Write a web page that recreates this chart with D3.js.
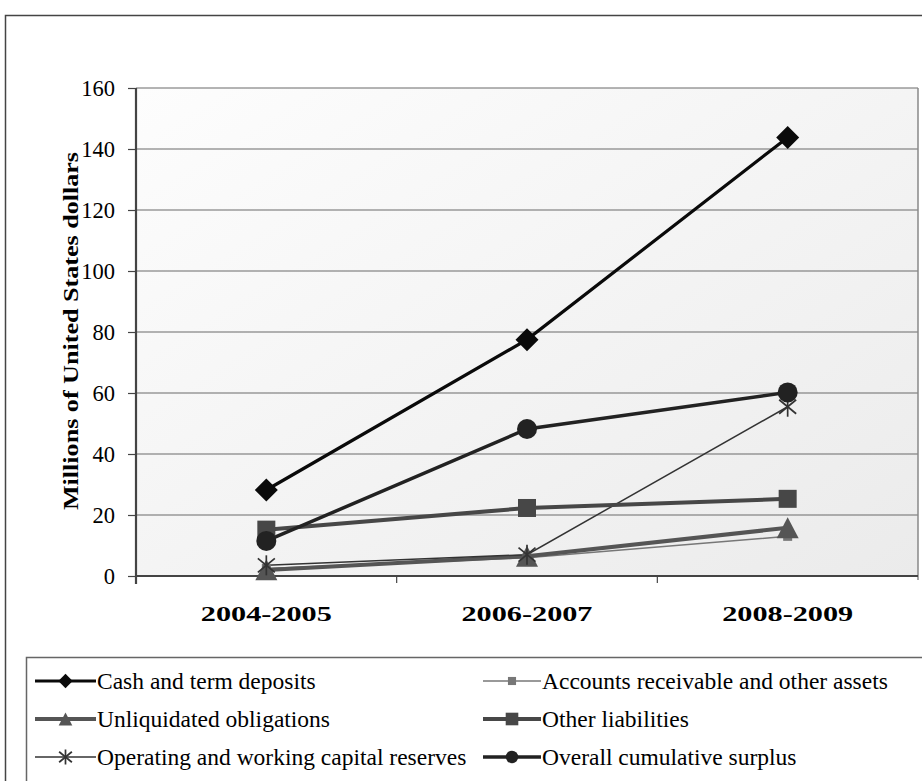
<!DOCTYPE html>
<html><head><meta charset="utf-8">
<script src="https://cdn.jsdelivr.net/npm/d3@7"></script>
<style>body{margin:0;background:#fff}svg{display:block}</style>
</head><body><svg id="c" width="922" height="781"></svg>
<script>
const categories = ["2004-2005","2006-2007","2008-2009"];
const yTicks = [0,20,40,60,80,100,120,140,160];
const cashTermDeposits = [28.2, 77.5, 143.8];
const accountsReceivable = [2.5, 6.0, 13.0];
const unliquidatedObligations = [2.0, 6.5, 15.8];
const otherLiabilities = [15.2, 22.3, 25.3];
const operatingReserves = [3.5, 7.0, 55.5];
const overallSurplus = [11.5, 48.2, 60.2];
const seriesNames = ["Cash and term deposits","Accounts receivable and other assets","Unliquidated obligations","Other liabilities","Operating and working capital reserves","Overall cumulative surplus"];

const styles = [
  {color:"#0a0a0a", w:3.2, marker:"diamond", size:23},
  {color:"#777777", w:1.5, marker:"square", size:9},
  {color:"#555555", w:4, marker:"triangle", size:22},
  {color:"#474747", w:4, marker:"square", size:18},
  {color:"#333333", w:1.5, marker:"star", size:20},
  {color:"#222222", w:3.5, marker:"circle", size:20}
];
const allValues = [cashTermDeposits, accountsReceivable, unliquidatedObligations, otherLiabilities, operatingReserves, overallSurplus];
const series = seriesNames.map((n,i)=>({name:n, values:allValues[i], style:styles[i]}));

const svg = d3.select("#c");
const font = "'Liberation Serif','Times New Roman',serif";
const L=136, R=918, T=88, B=576;

svg.append("rect").attr("x",5.5).attr("y",15.5).attr("width",930).attr("height",800)
  .attr("fill","none").attr("stroke","#444").attr("stroke-width",1.5);

const defs = svg.append("defs");
const g = defs.append("linearGradient").attr("id","bg").attr("x1",0).attr("y1",0).attr("x2",1).attr("y2",1);
g.append("stop").attr("offset","0%").attr("stop-color","#fdfdfd");
g.append("stop").attr("offset","100%").attr("stop-color","#ebebeb");

const x = d3.scaleBand().domain(categories).range([L,R]);
const y = d3.scaleLinear().domain([0,160]).range([B,T]);

svg.append("rect").attr("x",L).attr("y",T).attr("width",R-L).attr("height",B-T).attr("fill","url(#bg)");

svg.append("g").selectAll("line").data(yTicks.filter(d=>d>0)).join("line")
  .attr("x1",L).attr("x2",R).attr("y1",d=>y(d)).attr("y2",d=>y(d))
  .attr("stroke","#6a6a6a").attr("stroke-width",1.2);
svg.append("line").attr("x1",R).attr("x2",R).attr("y1",T).attr("y2",B+4).attr("stroke","#888").attr("stroke-width",1.5);

const ya = svg.append("g").attr("transform",`translate(${L},0)`)
  .call(d3.axisLeft(y).tickValues(yTicks).tickSize(8).tickPadding(13));
ya.select(".domain").attr("stroke","#444").attr("stroke-width",2.2).attr("d",`M0,${T}V${B+8}`);
ya.selectAll(".tick line").attr("stroke","#444").attr("stroke-width",1.2);
ya.selectAll("text").attr("font-family",font).attr("font-size",22.5).attr("fill","#000");

const xa = svg.append("g").attr("transform",`translate(0,${B})`)
  .call(d3.axisBottom(x).tickSize(0).tickPadding(0));
xa.select(".domain").attr("stroke","#444").attr("stroke-width",2.2).attr("d",`M${L},0H${R}`);
xa.selectAll("text").attr("font-family",font).attr("font-size",21).attr("font-weight","bold").attr("fill","#000")
  .attr("dy",null).attr("y",45).attr("textLength",131).attr("lengthAdjust","spacingAndGlyphs")
  .attr("x",-65.5).attr("text-anchor","start");
svg.append("g").selectAll("line").data(categories.slice(1)).join("line")
  .attr("x1",d=>x(d)).attr("x2",d=>x(d)).attr("y1",B).attr("y2",B+7)
  .attr("stroke","#444").attr("stroke-width",1.2);

svg.append("text").attr("transform","translate(78,331) rotate(-90)")
  .attr("x",-179).attr("font-family",font).attr("font-size",20).attr("font-weight","bold")
  .attr("textLength",358).attr("lengthAdjust","spacingAndGlyphs").text("Millions of United States dollars");

function drawMarker(sel, st, cx, cy, scale=1){
  const s = st.size*scale;
  if(st.marker==="diamond"){
    const h=s/2;
    sel.append("path").attr("d",`M${cx},${cy-h}L${cx+h},${cy}L${cx},${cy+h}L${cx-h},${cy}Z`).attr("fill",st.color);
  } else if(st.marker==="square"){
    sel.append("rect").attr("x",cx-s/2).attr("y",cy-s/2).attr("width",s).attr("height",s).attr("fill",st.color);
  } else if(st.marker==="triangle"){
    const h=s*0.95;
    sel.append("path").attr("d",`M${cx},${cy-h/2}L${cx+s/2},${cy+h/2}L${cx-s/2},${cy+h/2}Z`).attr("fill",st.color);
  } else if(st.marker==="circle"){
    sel.append("circle").attr("cx",cx).attr("cy",cy).attr("r",s/2).attr("fill",st.color);
  } else if(st.marker==="star"){
    const r=s/2;
    const p=[[cx,cy-r,cx,cy+r],[cx-r*0.85,cy-r*0.7,cx+r*0.85,cy+r*0.7],[cx+r*0.85,cy-r*0.7,cx-r*0.85,cy+r*0.7]];
    p.forEach(a=>sel.append("line").attr("x1",a[0]).attr("y1",a[1]).attr("x2",a[2]).attr("y2",a[3]).attr("stroke",st.color).attr("stroke-width",1.7));
  }
}

const line = d3.line().x((d,i)=>x(categories[i])+x.bandwidth()/2).y(d=>y(d));
const drawOrder = [1,2,4,3,5,0];
drawOrder.forEach(i=>{
  const s = series[i];
  svg.append("path").datum(s.values).attr("d",line).attr("fill","none")
    .attr("stroke",s.style.color).attr("stroke-width",s.style.w);
});
drawOrder.forEach(i=>{
  const s = series[i];
  const gg = svg.append("g");
  s.values.forEach((v,j)=>drawMarker(gg, s.style, x(categories[j])+x.bandwidth()/2, y(v)));
});

svg.append("rect").attr("x",26.5).attr("y",657.5).attr("width",910).attr("height",200)
  .attr("fill","#fff").attr("stroke","#666").attr("stroke-width",1.5);
const rowsY=[681,719,757];
series.forEach((s,i)=>{
  const col=i%2, row=Math.floor(i/2);
  const x0 = col===0?35:483, x1 = col===0?96:541, cy=rowsY[row];
  const lg = svg.append("g");
  lg.append("line").attr("x1",x0).attr("x2",x1).attr("y1",cy).attr("y2",cy).attr("stroke",s.style.color).attr("stroke-width",s.style.w);
  const sc = {diamond:0.62, square: s.style.size<10?0.9:0.7, triangle:0.62, circle:0.62, star:0.75}[s.style.marker];
  drawMarker(lg, s.style, (x0+x1)/2, cy, sc);
  lg.append("text").attr("x",x1+1).attr("y",cy).attr("dy","0.33em").attr("font-family",font).attr("font-size",23.5).text(s.name);
});
</script></body></html>
